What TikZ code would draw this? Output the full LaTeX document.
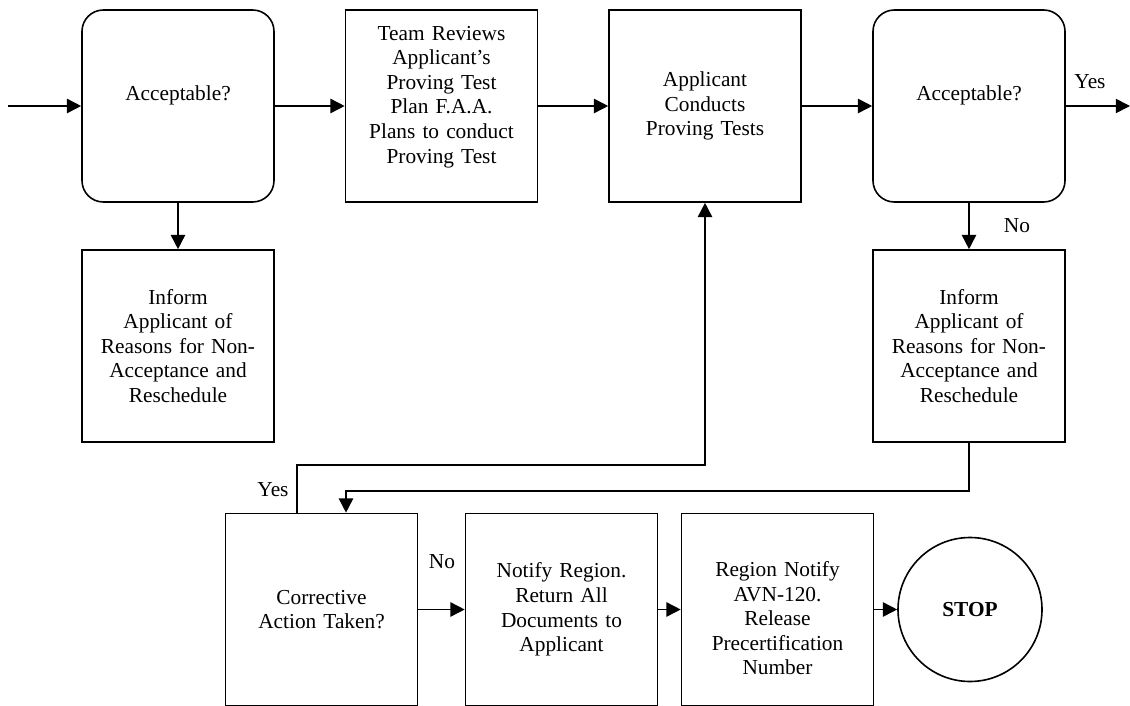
\documentclass[tikz,border=0pt]{standalone}
\usepackage{fontspec}
\setmainfont{Liberation Serif}
\usetikzlibrary{arrows.meta,calc}

\begin{document}
\begin{tikzpicture}[x=0.5625pt,y=-0.5625pt,line width=0.9pt,
  every node/.style={font=\fontsize{12}{13.8}\selectfont},
  box/.style={draw,minimum width=108pt,minimum height=108pt,text width=100pt,align=center,inner sep=0pt},
  query/.style={box,rounded corners=12pt},
  flow/.style={-{Triangle[length=8pt,width=8pt]}}]

  \useasboundingbox (0,0) rectangle (1130,706);

  \node[query,text depth=15pt] (accept1) at (178,106) {Acceptable?};
  \node[box,text depth=81.8pt] (review) at (441.5,106) {Team Reviews\\ Applicant's\\ Proving Test\\ Plan F.A.A.\\ Plans to conduct\\ Proving Test};
  \node[box] (conduct) at (705,106) {Applicant\\ Conducts\\ Proving Tests};
  \node[query,text depth=15pt] (accept2) at (969,106) {Acceptable?};
  \node[box] (inform1) at (178,346) {Inform\\ Applicant of\\ Reasons for Non-\\ Acceptance and\\ Reschedule};
  \node[box] (inform2) at (969,346) {Inform\\ Applicant of\\ Reasons for Non-\\ Acceptance and\\ Reschedule};
  \node[box] (corrective) at (321.5,609.5) {Corrective\\ Action Taken?};
  \node[box] (notify) at (561.5,609.5) {Notify Region.\\ Return All\\ Documents to\\ Applicant};
  \node[box,text height=18.2pt] (release) at (777.5,609.5) {Region Notify\\ AVN-120.\\ Release\\ Precertification\\ Number};
  \node[draw,circle,minimum size=81pt,inner sep=0pt,font=\fontsize{12}{13.8}\selectfont\bfseries] (stop) at (970,609.5) {STOP};

  \coordinate (entry) at (8,106);
  \coordinate (exit) at (1130,106);

  \draw[flow] (entry) -- (accept1);
  \draw[flow] (accept1) -- (review);
  \draw[flow] (review) -- (conduct);
  \draw[flow] (conduct) -- (accept2);
  \draw[flow] (accept2) -- (exit);
  \draw[flow] (accept1) -- (inform1);
  \draw[flow] (accept2) -- (inform2);
  \draw[flow] (inform2.south) -- ++(0,48) -| ($(corrective.north)+(24.5,0)$);
  \draw[flow] ($(corrective.north)+(-24.5,0)$) -- ++(0,-48) -| (conduct.south);
  \draw[flow] (corrective) -- (notify);
  \draw[flow] (notify) -- (release);
  \draw[flow] (release) -- (stop);

  \node (yes1) at (1090,82) {Yes};
  \node (no1) at (1017,226) {No};
  \node (yes2) at (273,490) {Yes};
  \node (no2) at (442,562) {No};

\end{tikzpicture}
\end{document}
